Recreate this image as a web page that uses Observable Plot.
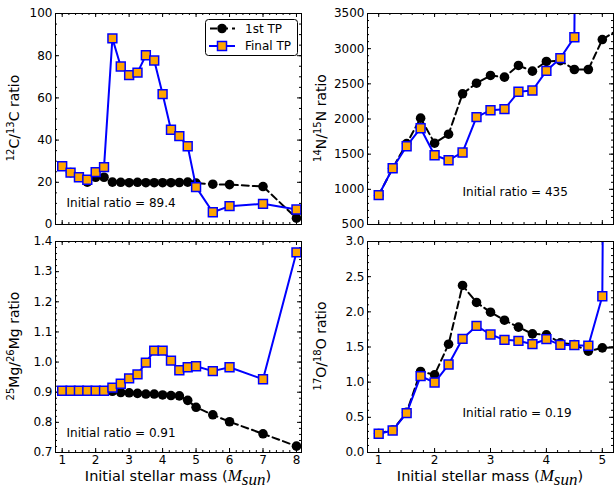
<!DOCTYPE html>
<html><head><meta charset="utf-8">
<script src="https://cdn.jsdelivr.net/npm/d3@7"></script>
<script src="https://cdn.jsdelivr.net/npm/@observablehq/plot@0.6"></script>
<style>
body{margin:0;background:#fff;font-family:"DejaVu Sans",sans-serif;}
#fig{position:relative;width:615px;height:495px;overflow:hidden;background:#fff;}
.panel{position:absolute;}
.ylab{position:absolute;transform:translate(-50%,-50%) rotate(-90deg);white-space:nowrap;font-size:14px;color:#000;}
.ylab sup{font-size:10px;vertical-align:5px;}
.xlab{position:absolute;transform:translate(-50%,-50%);white-space:nowrap;font-size:14.5px;color:#000;}
.xlab i{font-family:"Liberation Serif",serif;font-size:17px;}
.xlab sub{font-size:11px;vertical-align:-4px;}
#legend{position:absolute;}
</style></head><body><div id="fig"></div>
<script>
// ---- data ----
const masses = [1,1.25,1.5,1.75,2,2.25,2.5,2.75,3,3.25,3.5,3.75,4,4.25,4.5,4.75,5,5.5,6,7,8];

const c12c13First = [27.6,24.6,22.4,20.1,22.4,22.4,20.1,20.0,19.8,20.0,19.8,19.8,19.8,19.8,19.9,20.1,19.6,19.1,18.9,18.0,3.0];
const c12c13Final = [27.6,24.6,22.4,21.2,24.8,27.2,88.2,74.9,70.8,72.0,80.2,77.7,61.8,44.9,41.9,37.1,17.7,5.8,8.7,9.8,7.1];

const n14n15First = [917,1300,1650,2012,1656,1784,2358,2509,2619,2595,2761,2680,2818,2830,2704,2704,3130,3380];
const n14n15Final = [917,1300,1613,1869,1485,1414,1524,2026,2125,2140,2387,2405,2685,2865,3163,30000];

const mg25mg26First = [0.905,0.905,0.905,0.905,0.905,0.905,0.903,0.899,0.898,0.896,0.894,0.894,0.891,0.889,0.888,0.873,0.850,0.825,0.802,0.762,0.721];
const mg25mg26Final = [0.905,0.905,0.905,0.905,0.905,0.905,0.915,0.928,0.946,0.959,0.998,1.038,1.038,1.005,0.973,0.983,0.986,0.970,0.983,0.943,1.364];

const o17o18First = [0.27,0.32,0.57,1.152,1.105,1.54,2.375,2.133,1.995,1.881,1.782,1.687,1.673,1.56,1.535,1.44,1.488,1.50];
const o17o18Final = [0.266,0.313,0.56,1.085,0.995,1.251,1.616,1.80,1.678,1.602,1.588,1.54,1.611,1.531,1.526,1.517,2.222,60];

const xTicksWide = [1,2,3,4,5,6,7,8];
const xTicksNarrow = [1,2,3,4,5];
const cTicks = [0,20,40,60,80,100];
const nTicks = [500,1000,1500,2000,2500,3000,3500];
const mgTicks = [0.7,0.8,0.9,1.0,1.1,1.2,1.3,1.4];
const oTicks = [0,0.5,1.0,1.5,2.0,2.5,3.0];

const seriesNames = ["1st TP","Final TP"];
const notes = ["Initial ratio = 89.4","Initial ratio = 435","Initial ratio = 0.91","Initial ratio = 0.19"];

// ---- helpers ----
const toRows = (vals) => vals.map((v,i)=>({m: masses[i], v}));
const minor = (dom, step) => d3.range(Math.ceil(dom[0]/step - 1e-9)*step, dom[1]+1e-9, step);

const fig = document.getElementById("fig");
const W = 246, H = 211;

function makePanel(c){
  const mL = c.mL, mR = c.mR, mT = c.mT, mB = c.mB;
  const marks = [
    // minor / major ticks pointing inward on all four sides
    Plot.tickX(minor(c.xDomain, c.xMinor), {x: d=>d, insetTop: H-2, stroke:"black", strokeWidth:1}),
    Plot.tickX(minor(c.xDomain, c.xMinor), {x: d=>d, insetBottom: H-2, stroke:"black", strokeWidth:1}),
    Plot.tickX(c.xTicks, {x: d=>d, insetTop: H-4, stroke:"black", strokeWidth:1}),
    Plot.tickX(c.xTicks, {x: d=>d, insetBottom: H-4, stroke:"black", strokeWidth:1}),
    Plot.tickY(minor(c.yDomain, c.yMinor), {y: d=>d, insetRight: W-2, stroke:"black", strokeWidth:1}),
    Plot.tickY(minor(c.yDomain, c.yMinor), {y: d=>d, insetLeft: W-2, stroke:"black", strokeWidth:1}),
    Plot.tickY(c.yTicks, {y: d=>d, insetRight: W-4, stroke:"black", strokeWidth:1}),
    Plot.tickY(c.yTicks, {y: d=>d, insetLeft: W-4, stroke:"black", strokeWidth:1}),
    Plot.axisY({ticks: c.yTicks, tickSize: 0, tickPadding: 3, tickFormat: c.yFormat, fontSize: 12, label: null}),
    Plot.line(toRows(c.first), {x:"m", y:"v", stroke:"black", strokeWidth:2, strokeDasharray:"7,4", clip:true}),
    Plot.dot(toRows(c.first), {x:"m", y:"v", fill:"black", stroke:"none", r:4.8, clip:true}),
    Plot.line(toRows(c.final), {x:"m", y:"v", stroke:"#0000ff", strokeWidth:2, clip:true}),
    Plot.dot(toRows(c.final), {x:"m", y:"v", symbol:"square", fill:"#ffa500", stroke:"#0000ff", strokeWidth:1.5, r:5, clip:true}),
    Plot.text([c.note], {x: () => c.noteX, y: () => c.noteY, text: d=>d, textAnchor:"start", fontSize:12, fill:"black"}),
    Plot.frame({stroke:"black", strokeWidth:1})
  ];
  if (c.showX) marks.push(Plot.axisX({ticks: c.xTicks, tickSize: 0, tickPadding: 3, tickFormat: d3.format("d"), fontSize: 12, label: null}));
  const p = Plot.plot({
    width: mL + W + mR, height: mT + H + mB,
    marginLeft: mL, marginRight: mR, marginTop: mT, marginBottom: mB,
    style: {fontFamily: "DejaVu Sans", fontSize: "12px", background: "transparent", overflow: "visible"},
    x: {domain: c.xDomain, axis: c.showX ? undefined : null},
    y: {domain: c.yDomain},
    marks
  });
  p.classList.add("panel");
  p.style.left = (c.left - mL) + "px";
  p.style.top = (c.top - mT) + "px";
  fig.appendChild(p);
}

makePanel({left:55, top:13, mL:50, mR:4, mT:8, mB:6, xDomain:[0.8,8.15], yDomain:[0,100], xTicks:xTicksWide, yTicks:cTicks, xMinor:0.2, yMinor:5, yFormat:d3.format("d"), showX:false, first:c12c13First, final:c12c13Final, note:notes[0], noteX:1.13, noteY:10});
makePanel({left:367, top:13, mL:40, mR:2, mT:8, mB:6, xDomain:[0.8,5.2], yDomain:[500,3500], xTicks:xTicksNarrow, yTicks:nTicks, xMinor:0.2, yMinor:100, yFormat:d3.format("d"), showX:false, first:n14n15First, final:n14n15Final, note:notes[1], noteX:2.5, noteY:955});
makePanel({left:55, top:241, mL:50, mR:4, mT:6, mB:24, xDomain:[0.8,8.15], yDomain:[0.7,1.4], xTicks:xTicksWide, yTicks:mgTicks, xMinor:0.2, yMinor:0.02, yFormat:d3.format(".1f"), showX:true, first:mg25mg26First, final:mg25mg26Final, note:notes[2], noteX:1.13, noteY:0.763});
makePanel({left:367, top:241, mL:40, mR:2, mT:6, mB:24, xDomain:[0.8,5.2], yDomain:[0,3], xTicks:xTicksNarrow, yTicks:oTicks, xMinor:0.2, yMinor:0.1, yFormat:d3.format(".1f"), showX:true, first:o17o18First, final:o17o18Final, note:notes[3], noteX:2.5, noteY:0.555});

// ---- axis titles ----
function addDiv(cls, html, x, y){
  const d = document.createElement("div"); d.className = cls; d.innerHTML = html;
  d.style.left = x + "px"; d.style.top = y + "px"; fig.appendChild(d);
}
addDiv("ylab", "<sup>12</sup>C/<sup>13</sup>C ratio", 13, 118);
addDiv("ylab", "<sup>14</sup>N/<sup>15</sup>N ratio", 320, 118);
addDiv("ylab", "<sup>25</sup>Mg/<sup>26</sup>Mg ratio", 13, 346);
addDiv("ylab", "<sup>17</sup>O/<sup>18</sup>O ratio", 320, 346);
const xl = "Initial stellar mass (<i>M</i><sub><i>sun</i></sub>)";
addDiv("xlab", xl, 178, 478);
addDiv("xlab", xl, 490, 478);

// ---- legend ----
const ns = "http://www.w3.org/2000/svg";
const lg = document.createElementNS(ns, "svg");
lg.setAttribute("id","legend"); lg.setAttribute("width", 96); lg.setAttribute("height", 40);
lg.style.left = "204px"; lg.style.top = "18px";
lg.innerHTML = `
 <rect x="1.5" y="1.5" width="92" height="36" rx="3" fill="white" stroke="black" stroke-width="1"/>
 <line x1="5" y1="10.5" x2="31" y2="10.5" stroke="black" stroke-width="2" stroke-dasharray="7,4" stroke-dashoffset="-1"/>
 <circle cx="18" cy="10.5" r="4.8" fill="black"/>
 <text x="41" y="14.8" font-size="12" font-family="DejaVu Sans">${seriesNames[0]}</text>
 <line x1="5" y1="28" x2="31" y2="28" stroke="#0000ff" stroke-width="2"/>
 <rect x="13.5" y="23.5" width="9" height="9" fill="#ffa500" stroke="#0000ff" stroke-width="1.5"/>
 <text x="41" y="32.3" font-size="12" font-family="DejaVu Sans">${seriesNames[1]}</text>`;
fig.appendChild(lg);
</script>
</body></html>
